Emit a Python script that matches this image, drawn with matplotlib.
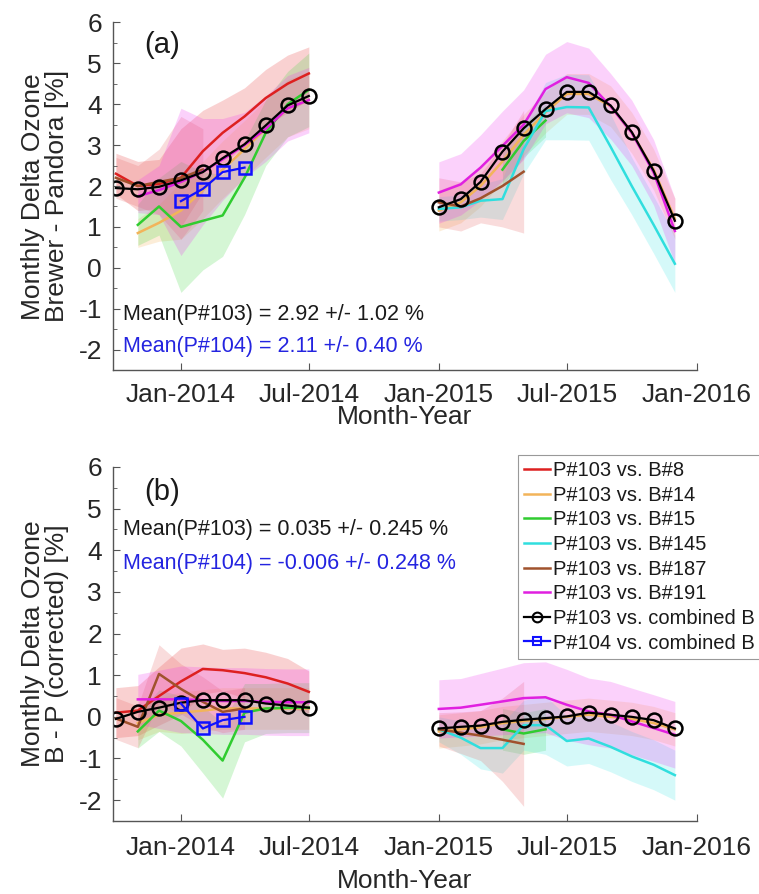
import numpy as np
import matplotlib
matplotlib.use("Agg")
import matplotlib.pyplot as plt
import matplotlib.dates as mdates
from matplotlib.ticker import MultipleLocator
import datetime as dt

plt.rcParams['font.family'] = ['Liberation Sans', 'DejaVu Sans']
plt.rcParams['axes.unicode_minus'] = False

nan = np.nan

# month axis: Oct-2013..Jul-2014 (10) then Jan-2015..Dec-2015 (12)
months = ([dt.date(2013, m, 1) for m in (10, 11, 12)] +
          [dt.date(2014, m, 1) for m in range(1, 8)] +
          [dt.date(2015, m, 1) for m in range(1, 13)])
p104_months = [dt.date(2014, m, 1) for m in (1, 2, 3, 4)]

labels = ["P#103 vs. B#8", "P#103 vs. B#14", "P#103 vs. B#15", "P#103 vs. B#145",
          "P#103 vs. B#187", "P#103 vs. B#191", "P#103 vs. combined B", "P#104 vs. combined B"]
colors = ["#dd2020", "#f2b45a", "#30cc30", "#30dede", "#a0522d", "#e020e0"]
band_colors = ["#e83030", "#f5b050", "#40d840", "#40e8e8", "#e86060", "#f030f0"]

# ---- panel (a): Brewer - Pandora ----
b8_a = [2.30, 2.00, 2.05, 2.20, 2.85, 3.30, 3.70, 4.15, 4.50, 4.75,
        nan, nan, nan, nan, nan, nan, nan, nan, nan, nan, nan, nan]
b8_a_sd = [0.5, 0.6, 0.6, 1.2, 1.0, 0.8, 0.7, 0.7, 0.7, 0.65,
           nan, nan, nan, nan, nan, nan, nan, nan, nan, nan, nan, nan]
b14_a = [nan, 0.85, 1.10, 1.40, 1.90, 2.40, 2.90, 3.40, 3.90, 4.10,
         1.40, 1.60, 2.00, 2.60, 3.25, 3.80, 4.25, 4.25, 3.95, 3.30, 2.40, 1.20]
b14_a_sd = [nan, 0.35, 0.45, 0.7, 0.7, 0.7, 0.7, 0.7, 0.7, 0.7,
            0.5, 0.5, 0.5, 0.5, 0.5, 0.5, 0.5, 0.5, 0.5, 0.5, 0.5, 0.5]
b15_a = [nan, 1.05, 1.50, 1.00, 1.15, 1.28, 2.20, 3.30, 4.00, 4.35,
         nan, nan, nan, 2.40, 3.10, 3.60, nan, nan, nan, nan, nan, nan]
b15_a_sd = [nan, 0.5, 0.7, 1.6, 1.2, 1.0, 0.9, 0.8, 0.8, 0.9,
            nan, nan, nan, 0.4, 0.4, 0.4, nan, nan, nan, nan, nan, nan]
b145_a = [nan, nan, nan, nan, nan, nan, nan, nan, nan, nan,
          1.44, 1.48, 1.64, 1.68, 2.90, 3.83, 3.93, 3.92, 2.96, 2.00, 1.05, 0.10]
b145_a_sd = [nan, nan, nan, nan, nan, nan, nan, nan, nan, nan,
             0.3, 0.3, 0.4, 0.5, 0.6, 0.7, 0.8, 0.8, 0.8, 0.7, 0.7, 0.7]
b187_a = [2.20, 2.00, 2.10, 2.20, 2.40, nan, nan, nan, nan, nan,
          1.60, 1.50, 1.70, 2.00, 2.35, nan, nan, nan, nan, nan, nan, nan]
b187_a_sd = [0.5, 0.5, 0.8, 1.5, 1.0, nan, nan, nan, nan, nan,
             0.6, 0.6, 0.6, 1.0, 1.5, nan, nan, nan, nan, nan, nan, nan]
b191_a = [nan, 1.75, 1.90, 2.10, 2.35, 2.65, 3.00, 3.40, 3.90, 4.10,
          1.84, 2.04, 2.45, 2.98, 3.50, 4.37, 4.66, 4.52, 3.95, 3.30, 2.33, 0.90]
b191_a_sd = [nan, 0.4, 0.6, 1.8, 1.3, 1.0, 0.8, 0.8, 0.8, 0.8,
             0.75, 0.75, 0.8, 0.85, 0.85, 0.85, 0.87, 0.85, 0.8, 0.8, 0.8, 0.8]
comb_a = [1.95, 1.92, 1.98, 2.14, 2.34, 2.68, 3.02, 3.48, 3.97, 4.20,
          1.48, 1.68, 2.10, 2.84, 3.41, 3.88, 4.30, 4.30, 3.97, 3.32, 2.37, 1.15]
p104_a = [1.63, 1.93, 2.34, 2.45]

# ---- panel (b): B - P (corrected) ----
b8_b = [0.10, 0.15, 0.50, 0.85, 1.15, 1.12, 1.05, 0.95, 0.80, 0.60,
        nan, nan, nan, nan, nan, nan, nan, nan, nan, nan, nan, nan]
b8_b_sd = [0.6, 0.6, 0.7, 0.8, 0.6, 0.5, 0.6, 0.6, 0.6, 0.5,
           nan, nan, nan, nan, nan, nan, nan, nan, nan, nan, nan, nan]
b14_b = [nan, -0.15, 0.05, 0.10, 0.15, 0.20, 0.20, 0.20, 0.20, 0.20,
         -0.35, -0.30, -0.25, -0.15, -0.10, -0.05, 0.00, 0.05, 0.00, -0.05, -0.15, -0.30]
b14_b_sd = [nan, 0.4, 0.4, 0.5, 0.5, 0.5, 0.5, 0.5, 0.5, 0.5,
            0.4, 0.4, 0.4, 0.4, 0.4, 0.4, 0.4, 0.4, 0.4, 0.4, 0.4, 0.4]
b15_b = [nan, -0.35, 0.15, -0.10, -0.55, -1.05, 0.10, 0.20, 0.22, 0.22,
         nan, nan, nan, -0.30, -0.40, -0.30, nan, nan, nan, nan, nan, nan]
b15_b_sd = [nan, 0.4, 0.5, 0.6, 0.8, 0.9, 0.7, 0.6, 0.6, 0.6,
            nan, nan, nan, 0.5, 0.5, 0.5, nan, nan, nan, nan, nan, nan]
b145_b = [nan, nan, nan, nan, nan, nan, nan, nan, nan, nan,
          -0.30, -0.50, -0.75, -0.75, -0.20, -0.20, -0.58, -0.52, -0.72, -0.95, -1.15, -1.40]
b145_b_sd = [nan, nan, nan, nan, nan, nan, nan, nan, nan, nan,
             0.3, 0.4, 0.5, 0.6, 0.6, 0.7, 0.6, 0.6, 0.6, 0.6, 0.6, 0.6]
b187_b = [-0.04, -0.24, 1.03, 0.67, 0.36, 0.12, 0.20, nan, nan, nan,
          -0.30, -0.38, -0.45, -0.55, -0.65, nan, nan, nan, nan, nan, nan, nan]
b187_b_sd = [0.5, 0.5, 0.7, 0.6, 0.6, 0.5, 0.5, nan, nan, nan,
             0.4, 0.5, 0.6, 1.0, 1.5, nan, nan, nan, nan, nan, nan, nan]
b191_b = [nan, 0.42, 0.42, 0.42, 0.40, 0.38, 0.38, 0.36, 0.35, 0.35,
          0.19, 0.22, 0.29, 0.37, 0.45, 0.47, 0.29, 0.13, 0.05, -0.11, -0.27, -0.43]
b191_b_sd = [nan, 0.6, 0.7, 0.8, 0.8, 0.8, 0.8, 0.8, 0.8, 0.8,
             0.7, 0.7, 0.75, 0.8, 0.85, 0.85, 0.85, 0.8, 0.8, 0.8, 0.8, 0.8]
comb_b = [-0.05, 0.12, 0.22, 0.34, 0.40, 0.40, 0.40, 0.32, 0.27, 0.22,
          -0.28, -0.24, -0.21, -0.12, -0.07, -0.03, 0.01, 0.10, 0.05, 0.00, -0.08, -0.28]
p104_b = [0.32, -0.28, -0.08, 0.00]

texts_a = ["Mean(P#103) = 2.92 +/- 1.02 %", "Mean(P#104) = 2.11 +/- 0.40 %"]
texts_b = ["Mean(P#103) = 0.035 +/- 0.245 %", "Mean(P#104) = -0.006 +/- 0.248 %"]

periods = [slice(0, 10), slice(10, 22)]
x = np.array(months)


def draw_panel(ax, series, comb, p104, tag, ylab, texts, text_y, tpad, xlpad):
    # bands first, then lines
    for (vals, sd), col in zip(series, band_colors):
        v = np.array(vals, float)
        s = np.array(sd, float)
        for p in periods:
            ax.fill_between(x[p], v[p] - s[p], v[p] + s[p], color=col,
                            alpha=0.22, linewidth=0)
    for (vals, sd), col in zip(series, colors):
        v = np.array(vals, float)
        for p in periods:
            ax.plot(x[p], v[p], color=col, lw=1.8)
    c = np.array(comb, float)
    for p in periods:
        ax.plot(x[p], c[p], color='black', lw=1.6, marker='o', ms=10,
                mfc='none', mew=1.8)
    ax.plot(p104_months, p104, color='#1010ff', lw=1.6, marker='s', ms=8.5,
            mfc='none', mew=1.8)

    ax.set_xlim(dt.date(2013, 9, 27), dt.date(2016, 1, 1))
    ax.set_ylim(-2.5, 6)
    ax.xaxis.set_major_locator(mdates.MonthLocator(bymonth=(1, 7)))
    ax.xaxis.set_major_formatter(mdates.DateFormatter('%b-%Y'))
    ax.yaxis.set_major_locator(MultipleLocator(1))
    ax.yaxis.set_minor_locator(MultipleLocator(0.5))
    ax.spines['top'].set_visible(False)
    ax.spines['right'].set_visible(False)
    ax.spines['left'].set_bounds(-2.5, 6)
    for s in ('left', 'bottom'):
        ax.spines[s].set_color('#555555')
        ax.spines[s].set_linewidth(1.0)
    ax.tick_params(axis='both', which='both', direction='in', colors='#555555',
                   labelcolor='#262626', labelsize=19)
    ax.tick_params(axis='y', which='major', length=5, pad=8)
    ax.tick_params(axis='y', which='minor', length=3)
    ax.tick_params(axis='x', which='major', length=5, pad=tpad)
    ax.set_xlabel("Month-Year", fontsize=19, color='#262626', labelpad=xlpad)
    ax.set_ylabel(ylab, fontsize=19, color='#262626', labelpad=7,
                  linespacing=1.0)
    ax.text(0.084, text_y[0], tag, transform=ax.transAxes, fontsize=21,
            ha='center', va='center', color='#1a1a1a')
    ax.text(0.017, text_y[1], texts[0], transform=ax.transAxes, fontsize=15.5,
            ha='left', va='center', color='#1a1a1a')
    ax.text(0.017, text_y[2], texts[1], transform=ax.transAxes, fontsize=15.5,
            ha='left', va='center', color='#2424e0')


fig = plt.figure(figsize=(7.59, 8.94), dpi=100)
ax1 = fig.add_axes([0.149, 0.586, 0.769, 0.389])
ax2 = fig.add_axes([0.149, 0.0817, 0.769, 0.396])

series_a = [(b8_a, b8_a_sd), (b14_a, b14_a_sd), (b15_a, b15_a_sd),
            (b145_a, b145_a_sd), (b187_a, b187_a_sd), (b191_a, b191_a_sd)]
series_b = [(b8_b, b8_b_sd), (b14_b, b14_b_sd), (b15_b, b15_b_sd),
            (b145_b, b145_b_sd), (b187_b, b187_b_sd), (b191_b, b191_b_sd)]

draw_panel(ax1, series_a, comb_a, p104_a, "(a)",
           "Monthly Delta Ozone\nBrewer - Pandora [%]", texts_a,
           (0.934, 0.159, 0.067), 9, -1)
draw_panel(ax2, series_b, comb_b, p104_b, "(b)",
           "Monthly Delta Ozone\nB - P (corrected) [%]", texts_b,
           (0.929, 0.822, 0.728), 11, 6)

# legend handles
handles = []
for col, lab in zip(colors, labels[:6]):
    handles.append(plt.Line2D([], [], color=col, lw=1.8, label=lab))
handles.append(plt.Line2D([], [], color='black', lw=1.6, marker='o', ms=7,
                          mfc='none', mew=1.5, label=labels[6]))
handles.append(plt.Line2D([], [], color='#1010ff', lw=1.6, marker='s', ms=6,
                          mfc='none', mew=1.5, label=labels[7]))
leg = fig.legend(handles=handles, loc='upper left',
                 bbox_to_anchor=(518 / 759, 1 - 455 / 894), fontsize=14.5,
                 handlelength=1.3, handletextpad=0.15, labelspacing=0.28,
                 borderpad=0.3, borderaxespad=0, fancybox=False, framealpha=1,
                 edgecolor='#999999')
leg.get_frame().set_linewidth(0.8)
for t in leg.get_texts():
    t.set_color('#1a1a1a')

fig.savefig("out.png", dpi=100)
